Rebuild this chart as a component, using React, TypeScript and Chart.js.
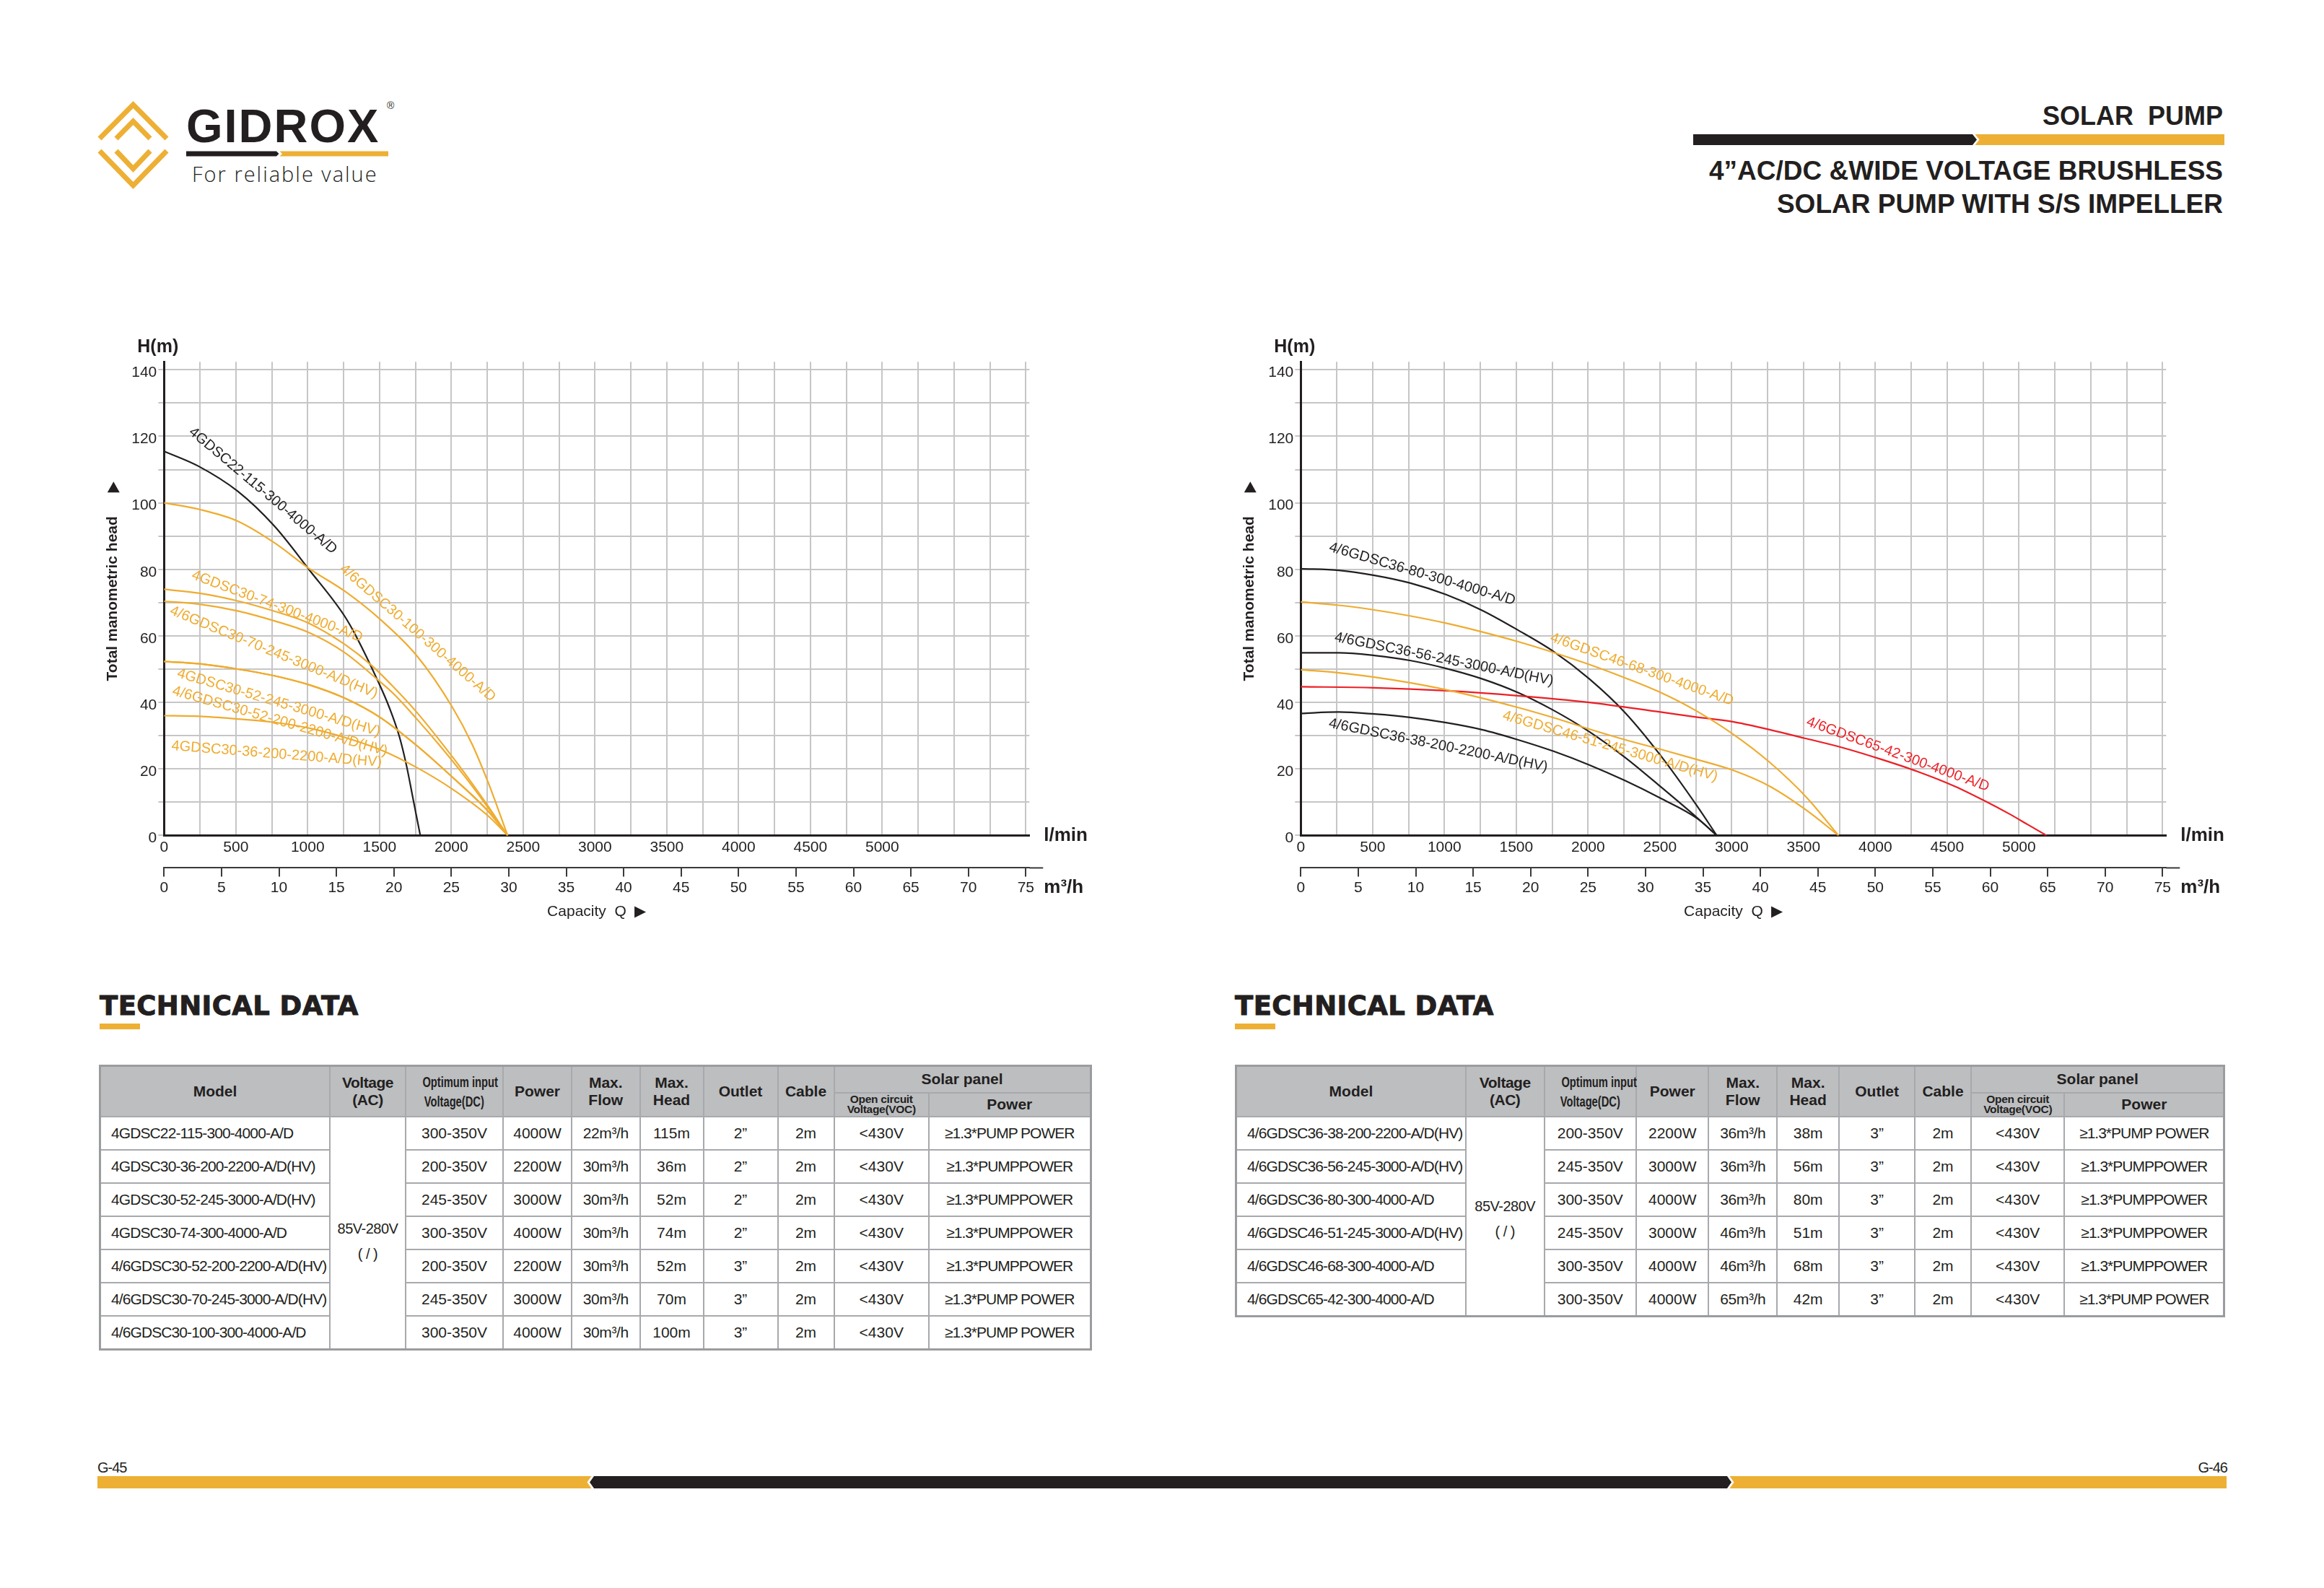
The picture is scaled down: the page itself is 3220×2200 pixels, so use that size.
import React, { useEffect, useRef } from 'react';
import { Chart, registerables } from 'chart.js';

Chart.register(...registerables);

const FAM = '"Liberation Sans", Arial, Helvetica, sans-serif';
const INK = '#231f20';
const CURVE_ORANGE = '#efac30';
const CURVE_RED = '#ec1f26';
const GOLD = '#edb035';
const GRID = '#c6c6c6';

// ---------- axis tick labels ----------
const lminTicks = [0, 500, 1000, 1500, 2000, 2500, 3000, 3500, 4000, 4500, 5000];
const m3hTicks = [0, 5, 10, 15, 20, 25, 30, 35, 40, 45, 50, 55, 60, 65, 70, 75];
const headTicks = [0, 20, 40, 60, 80, 100, 120, 140];

// grid positions (every 250 l/min and every 10 m)
const lminGrid = Array.from({ length: 25 }, (_, i) => i * 250);
const headGrid = Array.from({ length: 15 }, (_, i) => i * 10);

// ---------- left chart curves: capacity Q (m³/h) -> head H (m) ----------
const qA22_115 = [0, 3, 6.4, 9.6, 12.6, 15.7, 16.7, 18.6, 19.6, 20.5, 21.1, 21.7, 22.3];
const hA22_115 = [115.5, 111, 103.5, 93, 80, 66, 60, 46.5, 38.5, 29.5, 21, 10.5, 0];
const qA30_100 = [0, 3.1, 6.4, 9.6, 12.6, 15.7, 18.8, 22, 25.1, 26.8, 28.2, 29.9];
const hA30_100 = [100, 98, 94.5, 88, 80.3, 73.5, 65, 54, 38.5, 27.5, 16, 0];
const qA30_74 = [0, 3.1, 6.4, 9.6, 12.6, 15.7, 18.1, 20, 22, 24, 26, 28, 29.9];
const hA30_74 = [74, 72.8, 70.5, 67.4, 63.8, 57.5, 51, 44.5, 37, 28.5, 19.5, 9.8, 0];
const qA30_70 = [0, 3.1, 6.4, 9.6, 12.6, 15.7, 18.7, 20, 22, 24, 26, 28, 29.9];
const hA30_70 = [70.4, 69.5, 67.5, 64.5, 61, 55, 46.5, 42.5, 35, 27, 18.5, 9.3, 0];
const qA30_52_245 = [0, 3.1, 6.4, 9.6, 12.6, 15.7, 18.8, 22, 25.1, 28.2, 29.9];
const hA30_52_245 = [52.3, 51.6, 50, 48, 45.3, 41.3, 35.5, 27, 17.5, 7.3, 0];
const qA30_52_200 = [0, 3.1, 6.4, 9.6, 12.6, 15.7, 18.8, 22, 25.1, 28.2, 29.9];
const hA30_52_200 = [52.3, 51.6, 50, 48, 45.3, 41.3, 35.5, 27, 17.5, 7.3, 0];
const qA30_36 = [0, 3.1, 6.4, 9.6, 12.6, 15.7, 18.8, 22, 25.1, 28.2, 29.9];
const hA30_36 = [36, 35.8, 35, 34, 32.3, 29.5, 25.8, 20.4, 13.9, 5.9, 0];

// ---------- right chart curves ----------
const qB36 = [0, 3.3, 6.4, 9.5, 12.65, 15.76, 18.87, 22, 25.1, 28.2, 31.3, 34.5, 36.2];
const hB36_80 = [80.2, 79.7, 78.2, 75.9, 72.4, 67.7, 61.8, 55.3, 47.1, 37, 24.1, 8.8, 0];
const hB36_56 = [54.9, 54.9, 54.1, 52.6, 50.2, 47.1, 43, 37.6, 31.2, 23.5, 14.7, 5.3, 0];
const hB36_38 = [36.7, 37.1, 36.5, 35.5, 33.9, 31.8, 28.8, 25.3, 21.2, 16.5, 11.2, 5.1, 0];
const qB46 = [0, 3.3, 6.4, 9.5, 12.65, 15.76, 18.87, 22, 25.1, 28.2, 31.3, 34.4, 37.6, 40.8, 44, 46.8];
const hB46_68 = [70.2, 69.2, 67.8, 66, 63.8, 61.2, 58.3, 55, 51.4, 47.4, 43, 37.5, 30.5, 22, 11.5, 0];
const hB46_51 = [49.8, 48.9, 47.6, 45.9, 43.8, 41.3, 38.5, 35.4, 32, 28.8, 25.9, 22.9, 19.6, 14.8, 7.6, 0];
const qB65 = [0, 6.4, 12.65, 18.87, 25.1, 31.3, 34.4, 37.6, 40.8, 44, 47.25, 50.5, 53.7, 56.9, 59.4, 61.7, 63.3, 64.9];
const hB65_42 = [44.7, 44.4, 43.5, 42, 40, 37.1, 35.6, 34.2, 31.8, 29.1, 26.3, 22.9, 19.2, 14.8, 10.6, 6.4, 3.2, 0];

// ---------- technical data (left page) ----------
const leftModels = ['4GDSC22-115-300-4000-A/D', '4GDSC30-36-200-2200-A/D(HV)', '4GDSC30-52-245-3000-A/D(HV)', '4GDSC30-74-300-4000-A/D', '4/6GDSC30-52-200-2200-A/D(HV)', '4/6GDSC30-70-245-3000-A/D(HV)', '4/6GDSC30-100-300-4000-A/D'];
const leftDcVoltage = ['300-350V', '200-350V', '245-350V', '300-350V', '200-350V', '245-350V', '300-350V'];
const leftPower = ['4000W', '2200W', '3000W', '4000W', '2200W', '3000W', '4000W'];
const leftMaxFlow = ['22m³/h', '30m³/h', '30m³/h', '30m³/h', '30m³/h', '30m³/h', '30m³/h'];
const leftMaxHead = ['115m', '36m', '52m', '74m', '52m', '70m', '100m'];
const leftOutlet = ['2”', '2”', '2”', '2”', '3”', '3”', '3”'];
const leftCable = ['2m', '2m', '2m', '2m', '2m', '2m', '2m'];
const leftVoc = ['<430V', '<430V', '<430V', '<430V', '<430V', '<430V', '<430V'];
const leftPanelPower = ['≥1.3*PUMP POWER', '≥1.3*PUMPPOWER', '≥1.3*PUMPPOWER', '≥1.3*PUMPPOWER', '≥1.3*PUMPPOWER', '≥1.3*PUMP POWER', '≥1.3*PUMP POWER'];

// ---------- technical data (right page) ----------
const rightModels = ['4/6GDSC36-38-200-2200-A/D(HV)', '4/6GDSC36-56-245-3000-A/D(HV)', '4/6GDSC36-80-300-4000-A/D', '4/6GDSC46-51-245-3000-A/D(HV)', '4/6GDSC46-68-300-4000-A/D', '4/6GDSC65-42-300-4000-A/D'];
const rightDcVoltage = ['200-350V', '245-350V', '300-350V', '245-350V', '300-350V', '300-350V'];
const rightPower = ['2200W', '3000W', '4000W', '3000W', '4000W', '4000W'];
const rightMaxFlow = ['36m³/h', '36m³/h', '36m³/h', '46m³/h', '46m³/h', '65m³/h'];
const rightMaxHead = ['38m', '56m', '80m', '51m', '68m', '42m'];
const rightOutlet = ['3”', '3”', '3”', '3”', '3”', '3”'];
const rightCable = ['2m', '2m', '2m', '2m', '2m', '2m'];
const rightVoc = ['<430V', '<430V', '<430V', '<430V', '<430V', '<430V'];
const rightPanelPower = ['≥1.3*PUMP POWER', '≥1.3*PUMPPOWER', '≥1.3*PUMPPOWER', '≥1.3*PUMPPOWER', '≥1.3*PUMPPOWER', '≥1.3*PUMP POWER'];

const acVoltage = '85V-280V';

// series built from the arrays above
const leftSeries = [
  { name: leftModels[6], q: qA30_100, h: hA30_100, color: CURVE_ORANGE },
  { name: leftModels[3], q: qA30_74, h: hA30_74, color: CURVE_ORANGE },
  { name: leftModels[5], q: qA30_70, h: hA30_70, color: CURVE_ORANGE },
  { name: leftModels[2], q: qA30_52_245, h: hA30_52_245, color: CURVE_ORANGE },
  { name: leftModels[4], q: qA30_52_200, h: hA30_52_200, color: CURVE_ORANGE },
  { name: leftModels[1], q: qA30_36, h: hA30_36, color: CURVE_ORANGE },
  { name: leftModels[0], q: qA22_115, h: hA22_115, color: INK },
];
const rightSeries = [
  { name: rightModels[4], q: qB46, h: hB46_68, color: CURVE_ORANGE },
  { name: rightModels[3], q: qB46, h: hB46_51, color: CURVE_ORANGE },
  { name: rightModels[5], q: qB65, h: hB65_42, color: CURVE_RED },
  { name: rightModels[2], q: qB36, h: hB36_80, color: INK },
  { name: rightModels[1], q: qB36, h: hB36_56, color: INK },
  { name: rightModels[0], q: qB36, h: hB36_38, color: INK },
];

// curve-label placement (anchor in axis units, rotation in degrees)
const leftLabelPlacement = [
  { text: leftModels[0], q: 2.32, h: 121.8, angle: 40, color: INK },
  { text: leftModels[6], q: 15.45, h: 80.7, angle: 41, color: CURVE_ORANGE },
  { text: leftModels[3], q: 2.46, h: 78.4, angle: 20.5, color: CURVE_ORANGE },
  { text: leftModels[5], q: 0.57, h: 67.7, angle: 22.2, color: CURVE_ORANGE },
  { text: leftModels[2], q: 1.17, h: 48.8, angle: 16.3, color: CURVE_ORANGE },
  { text: leftModels[4], q: 0.75, h: 43.5, angle: 15.9, color: CURVE_ORANGE },
  { text: leftModels[1], q: 0.65, h: 26.9, angle: 4.5, color: CURVE_ORANGE },
];
const rightLabelPlacement = [
  { text: rightModels[2], q: 2.49, h: 86.7, angle: 16.2, color: INK },
  { text: rightModels[1], q: 2.95, h: 59.6, angle: 11.4, color: INK },
  { text: rightModels[0], q: 2.45, h: 33.7, angle: 11.4, color: INK },
  { text: rightModels[4], q: 21.75, h: 59.6, angle: 19.5, color: CURVE_ORANGE },
  { text: rightModels[3], q: 17.6, h: 36.1, angle: 16.1, color: CURVE_ORANGE },
  { text: rightModels[5], q: 44.05, h: 34.3, angle: 20, color: CURVE_RED },
];

const X_MAX = 6025;
const Q_MAX = (75 * X_MAX) / 6000;
const Y_MAX = 142.4;
const CANVAS_W = 1440;
const CANVAS_H = 860;
const CANVAS_TOP = 440;

function PumpChart({ left, series, labels }: any) {
  const ref = useRef<HTMLCanvasElement>(null);
  useEffect(() => {
    const canvas = ref.current;
    if (!canvas) return;
    const overlay = {
      id: 'overlay',
      afterDraw(chart: any) {
        const { ctx, chartArea } = chart;
        const qs = chart.scales.q;
        const ys = chart.scales.y;
        ctx.save();
        ctx.fillStyle = INK;
        ctx.font = `bold 25px ${FAM}`;
        ctx.textAlign = 'left';
        ctx.textBaseline = 'alphabetic';
        ctx.fillText('H(m)', chartArea.left - 37, chartArea.top - 13);
        const tx = chartArea.left - 70;
        const ty = chartArea.top + 174;
        ctx.beginPath();
        ctx.moveTo(tx, ty - 8);
        ctx.lineTo(tx + 8.5, ty + 7);
        ctx.lineTo(tx - 8.5, ty + 7);
        ctx.closePath();
        ctx.fill();
        ctx.font = `bold 26px ${FAM}`;
        ctx.textBaseline = 'middle';
        ctx.fillText('l/min', chartArea.right + 20, chartArea.bottom);
        ctx.fillText('m³/h', chartArea.right + 20, qs.top + 27);
        ctx.strokeStyle = '#3a3a3a';
        ctx.lineWidth = 2;
        ctx.beginPath();
        ctx.moveTo(chartArea.right, qs.top);
        ctx.lineTo(chartArea.right + 19, qs.top);
        ctx.stroke();
        ctx.font = `20px ${FAM}`;
        ctx.textAlign = 'left';
        ctx.textBaseline = 'middle';
        for (const lb of labels) {
          const px = qs.getPixelForValue(lb.q);
          const py = ys.getPixelForValue(lb.h);
          ctx.save();
          ctx.translate(px, py);
          ctx.rotate((lb.angle * Math.PI) / 180);
          ctx.fillStyle = lb.color;
          ctx.fillText(lb.text, 0, 0);
          ctx.restore();
        }
        ctx.restore();
      },
    };
    const tickFont = { size: 21, family: FAM };
    const chart = new Chart(canvas, {
      type: 'line',
      data: {
        datasets: series.map((s: any) => ({
          label: s.name,
          data: s.q.map((q: number, i: number) => ({ x: q, y: s.h[i] })),
          borderColor: s.color,
          borderWidth: 2.2,
          pointRadius: 0,
          fill: false,
          cubicInterpolationMode: 'monotone',
          xAxisID: 'q',
          yAxisID: 'y',
        })),
      },
      options: {
        animation: false,
        responsive: false,
        devicePixelRatio: 1,
        layout: { padding: { top: 61.2, right: 113.7, bottom: 0, left: 0 } },
        plugins: { legend: { display: false }, tooltip: { enabled: false } },
        scales: {
          x: {
            type: 'linear',
            position: 'bottom',
            min: 0,
            max: X_MAX,
            afterBuildTicks: (s: any) => { s.ticks = lminGrid.map((v) => ({ value: v })); },
            afterFit: (s: any) => { s.height = 45; },
            grid: { color: GRID, lineWidth: 2, drawTicks: false },
            border: { display: true, color: INK, width: 3 },
            ticks: {
              autoSkip: false,
              maxRotation: 0,
              minRotation: 0,
              padding: 4,
              font: tickFont,
              color: INK,
              callback: (v: any) => (lminTicks.includes(v) ? String(v) : ''),
            },
          },
          q: {
            type: 'linear',
            position: 'bottom',
            min: 0,
            max: Q_MAX,
            afterBuildTicks: (s: any) => { s.ticks = m3hTicks.map((v) => ({ value: v })); },
            afterFit: (s: any) => { s.height = 97.6; },
            grid: { drawOnChartArea: false, drawTicks: true, tickLength: 12, color: '#3a3a3a', lineWidth: 2 },
            border: { display: true, color: '#3a3a3a', width: 2 },
            ticks: {
              autoSkip: false,
              maxRotation: 0,
              minRotation: 0,
              padding: 3,
              font: tickFont,
              color: INK,
              callback: (v: any) => String(v),
            },
            title: {
              display: true,
              text: 'Capacity  Q  ▶',
              font: { size: 21, family: FAM },
              color: INK,
              padding: { top: 0, bottom: 24.4 },
            },
          },
          y: {
            type: 'linear',
            position: 'left',
            min: 0,
            max: Y_MAX,
            afterBuildTicks: (s: any) => { s.ticks = headGrid.map((v) => ({ value: v })); },
            afterFit: (s: any) => { s.width = 127.3; },
            grid: { color: GRID, lineWidth: 2, tickLength: 8 },
            border: { display: true, color: INK, width: 3 },
            ticks: {
              autoSkip: false,
              padding: 2,
              labelOffset: 4,
              font: tickFont,
              color: INK,
              callback: (v: any) => (headTicks.includes(v) ? String(v) : ''),
            },
            title: {
              display: true,
              text: 'Total manometric head',
              font: { size: 21, family: FAM, weight: 'bold' },
              color: INK,
              padding: { top: 43.4, bottom: 0 },
            },
          },
        },
      },
      plugins: [overlay],
    } as any);
    return () => chart.destroy();
  }, []);
  return (
    <canvas
      ref={ref}
      width={CANVAS_W}
      height={CANVAS_H}
      style={{ position: 'absolute', left, top: CANVAS_TOP, width: CANVAS_W, height: CANVAS_H }}
    />
  );
}

const cellBorder = '2px solid #a7a9ac';
const thBase: any = {
  border: cellBorder,
  background: '#bcbec0',
  fontWeight: 'bold',
  fontSize: 21,
  lineHeight: '24px',
  padding: 0,
  textAlign: 'center',
  verticalAlign: 'middle',
  color: INK,
};
const tdBase: any = {
  border: cellBorder,
  fontSize: 21,
  padding: 0,
  height: 44,
  textAlign: 'center',
  verticalAlign: 'middle',
  color: INK,
  whiteSpace: 'nowrap',
};

function Narrow({ children, size, sx }: any) {
  return (
    <span style={{ display: 'inline-block', fontSize: size, transform: `scaleX(${sx})`, transformOrigin: 'center', whiteSpace: 'nowrap' }}>
      {children}
    </span>
  );
}

function TechTable({ left, widths, models, dc, power, flow, head, outlet, cable, voc, panel, acPad }: any) {
  const total = widths.reduce((a: number, b: number) => a + b, 0);
  return (
    <table
      style={{
        position: 'absolute',
        left,
        top: 1475,
        width: total,
        borderCollapse: 'collapse',
        tableLayout: 'fixed',
        border: '3px solid #9a9c9f',
        fontFamily: FAM,
        color: INK,
      }}
    >
      <colgroup>
        {widths.map((w: number, i: number) => (
          <col key={i} style={{ width: w }} />
        ))}
      </colgroup>
      <thead>
        <tr style={{ height: 37 }}>
          <th rowSpan={2} style={thBase}>Model</th>
          <th rowSpan={2} style={{ ...thBase, letterSpacing: -0.5 }}>Voltage<br />(AC)</th>
          <th rowSpan={2} style={{ ...thBase, lineHeight: '27px' }}>
            <Narrow size={21} sx={0.7}>Optimum input</Narrow>
            <br />
            <Narrow size={21} sx={0.7}>Voltage(DC)</Narrow>
          </th>
          <th rowSpan={2} style={thBase}>Power</th>
          <th rowSpan={2} style={thBase}>Max.<br />Flow</th>
          <th rowSpan={2} style={thBase}>Max.<br />Head</th>
          <th rowSpan={2} style={thBase}>Outlet</th>
          <th rowSpan={2} style={thBase}>Cable</th>
          <th colSpan={2} style={thBase}>Solar panel</th>
        </tr>
        <tr style={{ height: 33 }}>
          <th style={{ ...thBase, fontSize: 15.5, lineHeight: '14px', letterSpacing: -0.3 }}>Open circuit<br />Voltage(VOC)</th>
          <th style={thBase}>Power</th>
        </tr>
      </thead>
      <tbody>
        {models.map((m: string, i: number) => (
          <tr key={i} style={{ height: 46 }}>
            <td style={{ ...tdBase, textAlign: 'left', paddingLeft: 14, letterSpacing: -0.9 }}>{m}</td>
            {i === 0 && (
              <td
                rowSpan={models.length}
                style={{ ...tdBase, fontSize: 20, lineHeight: '35px', letterSpacing: -0.5, paddingTop: acPad }}
              >
                {acVoltage}
                <br />( / )
              </td>
            )}
            <td style={tdBase}>{dc[i]}</td>
            <td style={tdBase}>{power[i]}</td>
            <td style={{ ...tdBase, letterSpacing: -0.4 }}>{flow[i]}</td>
            <td style={tdBase}>{head[i]}</td>
            <td style={tdBase}>{outlet[i]}</td>
            <td style={tdBase}>{cable[i]}</td>
            <td style={tdBase}>{voc[i]}</td>
            <td style={{ ...tdBase, letterSpacing: -1 }}>{panel[i]}</td>
          </tr>
        ))}
      </tbody>
    </table>
  );
}

function Decorations() {
  const logoStroke = { fill: 'none', stroke: GOLD, strokeWidth: 7, strokeLinejoin: 'miter' as any };
  return (
    <svg
      width={3220}
      height={2200}
      style={{ position: 'absolute', left: 0, top: 0 }}
      viewBox="0 0 3220 2200"
    >
      {/* logo mark */}
      <polyline points="138,192 184.5,145 231,192" {...logoStroke} />
      <polyline points="138,209 184.5,257 231,209" {...logoStroke} />
      <polyline points="161,192 184.5,168 208,192" {...logoStroke} />
      <polyline points="161,209 184.5,234 208,209" {...logoStroke} />
      {/* logo underline */}
      <polygon points="258,209.5 383,209.5 386.5,213 383,216.5 258,216.5" fill={INK} />
      <polygon points="387.5,209.5 538,209.5 538,216.5 387.5,216.5 391,213" fill={GOLD} />
      {/* header bar */}
      <polygon points="2346,186 2733,186 2739,193.5 2733,201 2346,201" fill={INK} />
      <polygon points="2736.5,186 3082,186 3082,201 2736.5,201 2742.5,193.5" fill={GOLD} />
      {/* technical data underlines */}
      <rect x={138} y={1418} width={56} height={8} fill={GOLD} />
      <rect x={1711} y={1418} width={56} height={8} fill={GOLD} />
      {/* footer bar */}
      <polygon points="135,2045 819.5,2045 813.5,2053.5 819.5,2062 135,2062" fill={GOLD} />
      <polygon points="823,2045 2393,2045 2399,2053.5 2393,2062 823,2062 817,2053.5" fill={INK} />
      <polygon points="2396.5,2045 3085,2045 3085,2062 2396.5,2062 2402.5,2053.5" fill={GOLD} />
    </svg>
  );
}

const abs = (o: any): any => ({ position: 'absolute', margin: 0, whiteSpace: 'pre', ...o });

const techHeading: any = {
  top: 1374.7,
  fontSize: 37,
  lineHeight: '37px',
  fontWeight: 'bold',
  letterSpacing: 0.4,
  fontFamily: '"DejaVu Sans", sans-serif',
  WebkitTextStroke: `1px ${INK}`,
};

export default function App() {
  return (
    <div
      style={{
        position: 'absolute',
        left: 0,
        top: 0,
        width: 3220,
        height: 2200,
        overflow: 'hidden',
        background: '#ffffff',
        fontFamily: FAM,
        color: INK,
      }}
    >
      <Decorations />
      {/* logo text */}
      <div style={abs({ left: 258, top: 142, fontSize: 65, lineHeight: '65px', fontWeight: 'bold', letterSpacing: 2 })}>GIDROX</div>
      <div style={abs({ left: 536, top: 139, fontSize: 14, lineHeight: '14px' })}>®</div>
      <div style={abs({ left: 266, top: 226, fontSize: 29, lineHeight: '29px', fontFamily: '"Open Sans", sans-serif', fontWeight: 300, letterSpacing: 2 })}>
        For reliable value
      </div>
      {/* header right */}
      <div style={abs({ right: 140, top: 142.5, fontSize: 36, lineHeight: '36px', fontWeight: 'bold' })}>SOLAR  PUMP</div>
      <div style={abs({ right: 140, top: 217.7, fontSize: 37, lineHeight: '37px', fontWeight: 'bold' })}>4”AC/DC &WIDE VOLTAGE BRUSHLESS</div>
      <div style={abs({ right: 140, top: 264.1, fontSize: 37, lineHeight: '37px', fontWeight: 'bold' })}>SOLAR PUMP WITH S/S IMPELLER</div>

      <PumpChart left={100} series={leftSeries} labels={leftLabelPlacement} />
      <PumpChart left={1674.5} series={rightSeries} labels={rightLabelPlacement} />

      {/* technical data headings */}
      <div style={abs({ ...techHeading, left: 138 })}>TECHNICAL DATA</div>
      <div style={abs({ ...techHeading, left: 1711 })}>TECHNICAL DATA</div>

      <TechTable
        left={137}
        widths={[318.5, 105, 135, 95, 94.5, 88, 103, 78, 131.5, 224]}
        models={leftModels}
        dc={leftDcVoltage}
        power={leftPower}
        flow={leftMaxFlow}
        head={leftMaxHead}
        outlet={leftOutlet}
        cable={leftCable}
        voc={leftVoc}
        panel={leftPanelPower}
        acPad={24}
      />
      <TechTable
        left={1711}
        widths={[318.3, 108.8, 127.4, 100.5, 94.5, 86.3, 104.7, 78.1, 129.3, 221.4]}
        models={rightModels}
        dc={rightDcVoltage}
        power={rightPower}
        flow={rightMaxFlow}
        head={rightMaxHead}
        outlet={rightOutlet}
        cable={rightCable}
        voc={rightVoc}
        panel={rightPanelPower}
        acPad={8}
      />

      {/* footer */}
      <div style={abs({ left: 135, top: 2023, fontSize: 20, lineHeight: '20px', letterSpacing: -1 })}>G-45</div>
      <div style={abs({ right: 134, top: 2023, fontSize: 20, lineHeight: '20px', letterSpacing: -1 })}>G-46</div>
    </div>
  );
}
